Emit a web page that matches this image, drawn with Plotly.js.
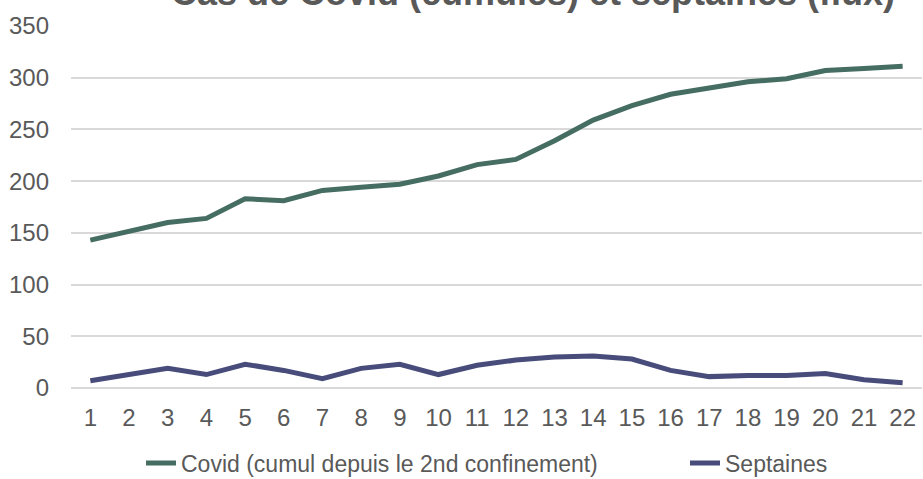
<!DOCTYPE html>
<html>
<head>
    <title>Cas de Covid et septaines</title>
    <script src="https://cdn.plot.ly/plotly-3.0.1.min.js"></script>
    <style>
        body { margin: 0; background-color: white; }
        #chart { width: 923px; height: 479px; }
    </style>
</head>
<body>
    <div id="chart"></div>
    <script>
        // Data
        const semaines = ['1', '2', '3', '4', '5', '6', '7', '8', '9', '10', '11',
                          '12', '13', '14', '15', '16', '17', '18', '19', '20', '21', '22'];
        const covidCumul = [143, 151, 160, 164, 183, 181, 191, 194, 197, 205, 216,
                            221, 239, 259, 273, 284, 290, 296, 299, 307, 309, 311];
        const septaines = [7, 13, 19, 13, 23, 17, 9, 19, 23, 13, 22,
                           27, 30, 31, 28, 17, 11, 12, 12, 14, 8, 5];
        const yTicks = [0, 50, 100, 150, 200, 250, 300, 350];

        const grey = '#595959';

        const covidTrace = {
            x: semaines,
            y: covidCumul,
            name: 'Covid (cumul depuis le 2nd confinement)',
            type: 'scatter',
            mode: 'lines',
            legend: 'legend',
            line: {color: '#466D61', width: 5}
        };
        const septainesTrace = {
            x: semaines,
            y: septaines,
            name: 'Septaines',
            type: 'scatter',
            mode: 'lines',
            legend: 'legend2',
            line: {color: '#474C7A', width: 5}
        };

        // one legend per series, so each entry sits where the original puts it
        const legendBase = {
            orientation: 'h',
            xref: 'container',
            xanchor: 'left',
            y: 1 - 463 / 479,
            yref: 'container',
            yanchor: 'middle',
            font: {size: 23, color: grey}
        };

        Plotly.newPlot('chart', [covidTrace, septainesTrace], {
            width: 923,
            height: 479,
            margin: {l: 71, r: 1, t: 26, b: 91},
            paper_bgcolor: 'white',
            plot_bgcolor: 'white',
            font: {family: 'Liberation Sans, Arial, sans-serif', size: 23, color: grey},
            title: {
                text: 'Cas de Covid (cumulés) et septaines (flux)',
                font: {size: 36, color: grey, weight: 'bold'},
                x: 533 / 923,
                xanchor: 'center',
                y: 1 - 5 / 479,
                yanchor: 'bottom'
            },
            xaxis: {
                type: 'category',
                range: [-0.5, 21.5],
                showgrid: false,
                zeroline: false,
                showline: false,
                ticks: '',
                ticklabelstandoff: 13,
                tickfont: {size: 24, color: grey}
            },
            yaxis: {
                range: [0, 350],
                tickvals: yTicks,
                showgrid: true,
                gridcolor: '#D9D9D9',
                gridwidth: 1.5,
                zeroline: true,
                zerolinecolor: '#D9D9D9',
                zerolinewidth: 1.5,
                showline: false,
                ticks: '',
                ticklabelstandoff: 21,
                tickfont: {size: 24, color: grey}
            },
            showlegend: true,
            legend: Object.assign({}, legendBase, {x: 141 / 923}),
            legend2: Object.assign({}, legendBase, {x: 685 / 923})
        }, {displayModeBar: false});
    </script>
</body>
</html>
